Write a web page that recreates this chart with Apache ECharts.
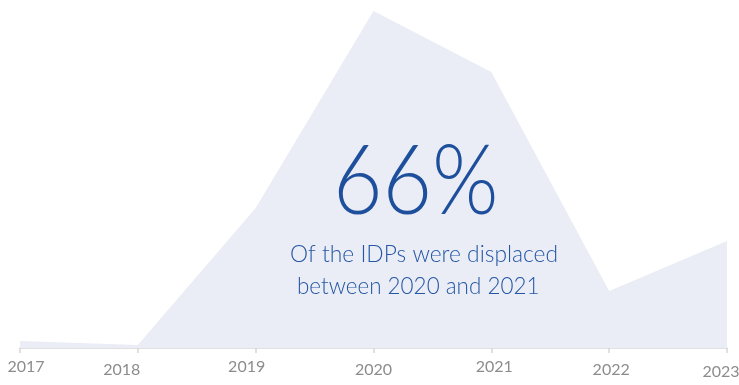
<!DOCTYPE html>
<html>
<head>
<meta charset="utf-8">
<script src="https://cdn.jsdelivr.net/npm/echarts@6/dist/echarts.min.js"></script>
<style>
  html, body { margin: 0; padding: 0; background: #ffffff; overflow: hidden; }
  #chart { width: 739px; height: 385px; }
</style>
</head>
<body>
<div id="chart"></div>
<script>
// Internally displaced persons by year (thousands)
const years = ['2017', '2018', '2019', '2020', '2021', '2022', '2023'];
const displaced = [7, 3, 140, 337, 276, 57, 107];
const headline = '66%';
const caption = ['Of the IDPs were displaced', 'between 2020 and 2021'];

const chart = echarts.init(document.getElementById('chart'), null, { renderer: 'canvas', width: 739, height: 385 });

// Small per-label nudges [dx, dy] for the staggered year labels
const nudge = [[6, 0], [-16, 3], [-9, 0], [0, 3], [3, 0], [2, 3], [-6, 5]];
const rich = {};
nudge.forEach(([dx, dy], i) => {
  rich['y' + i] = {
    fontFamily: 'Lato, "Open Sans", sans-serif',
    fontSize: 16,
    color: '#8c8c8c',
    padding: [dy, dx < 0 ? -2 * dx : 0, 0, dx > 0 ? 2 * dx : 0]
  };
});

const textFont = 'Lato, "Open Sans", sans-serif';

const option = {
  animation: false,
  grid: { left: 20, right: 12, top: 8, bottom: 37, outerBoundsMode: 'none', containLabel: false },
  xAxis: {
    type: 'category',
    data: years,
    boundaryGap: false,
    axisLine: { lineStyle: { color: '#d6d6d6', width: 1.5 } },
    axisTick: { show: true, length: 5, lineStyle: { color: '#d6d6d6', width: 1.5 } },
    axisLabel: {
      margin: 11,
      formatter: (v, i) => '{y' + i + '|' + v + '}',
      rich: rich
    },
    splitLine: { show: false }
  },
  yAxis: {
    type: 'value',
    min: 0,
    max: 340,
    show: false
  },
  series: [{
    type: 'line',
    data: displaced,
    symbol: 'none',
    lineStyle: { width: 0 },
    areaStyle: { color: '#eaedf5', opacity: 1 }
  }],
  graphic: {
    elements: [
      {
        type: 'text',
        x: 333,
        y: 135,
        scaleX: 0.89,
        z: 100,
        style: {
          text: headline,
          fontFamily: textFont,
          fontSize: 96,
          fontWeight: 300,
          fill: '#1d4f9c'
        }
      },
      {
        type: 'text',
        x: 290,
        y: 242,
        scaleX: 0.95,
        z: 100,
        style: {
          text: caption[0],
          fontFamily: textFont,
          fontSize: 24,
          fontWeight: 300,
          fill: '#2456a4'
        }
      },
      {
        type: 'text',
        x: 297,
        y: 274,
        scaleX: 0.935,
        z: 100,
        style: {
          text: caption[1],
          fontFamily: textFont,
          fontSize: 24,
          fontWeight: 300,
          fill: '#2456a4'
        }
      }
    ]
  }
};

chart.setOption(option);
</script>
</body>
</html>
